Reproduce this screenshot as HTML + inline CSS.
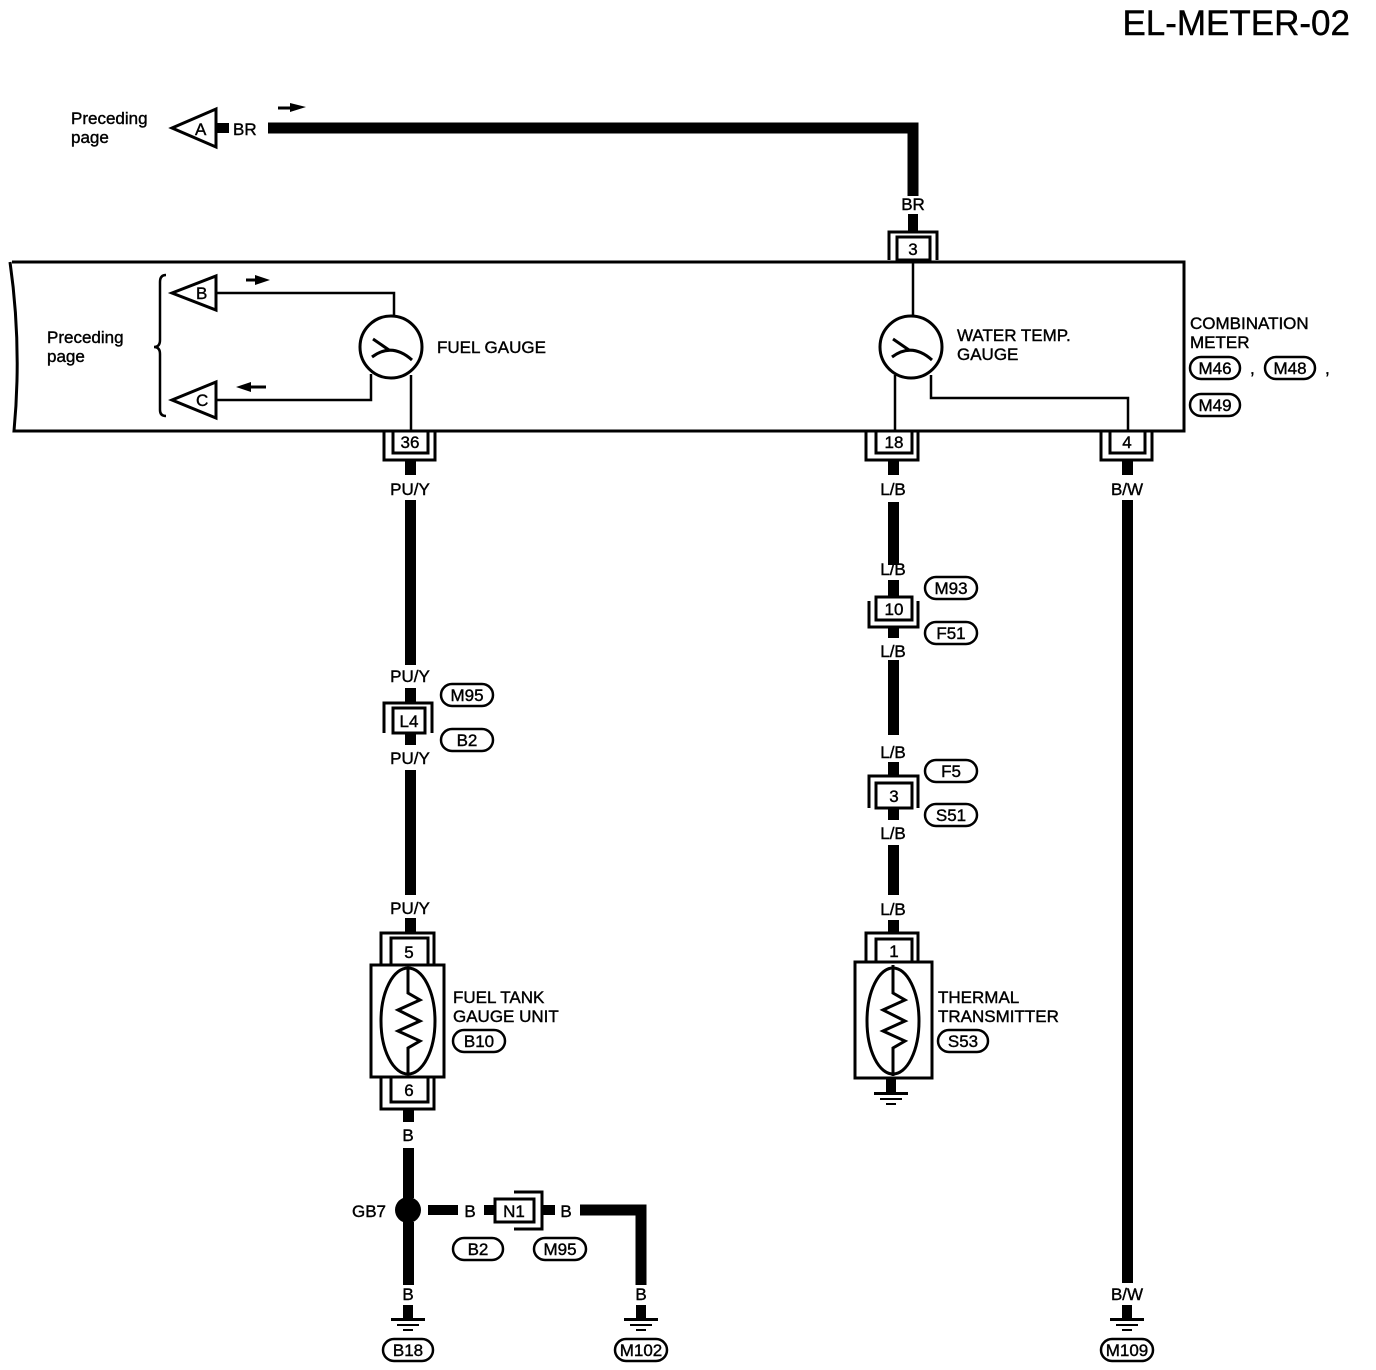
<!DOCTYPE html>
<html><head><meta charset="utf-8"><style>
html,body{margin:0;padding:0;background:#fff;}
svg{display:block;}
text{font-family:"Liberation Sans",sans-serif;fill:#000;stroke:#000;stroke-width:0.4;}
</style></head><body>
<svg width="1376" height="1370" viewBox="0 0 1376 1370" xmlns="http://www.w3.org/2000/svg">
<defs>
<g id="gnd">
<rect x="-5" y="0" width="10" height="14" fill="#000"/>
<rect x="-17" y="13" width="34" height="3" fill="#000"/>
<rect x="-11" y="19" width="22" height="2" fill="#000"/>
<rect x="-5" y="24" width="10" height="2" fill="#000"/>
</g>
</defs>
<g font-size="17">
<text x="1350" y="35" font-size="35" text-anchor="end">EL-METER-02</text>

<text x="71" y="124">Preceding</text>
<text x="71" y="143">page</text>
<polygon points="172,128 216,109 216,147" fill="none" stroke="#000" stroke-width="3"/>
<text x="195" y="135">A</text>
<rect x="216" y="123" width="13" height="10"/>
<text x="233" y="135">BR</text>
<path d="M268 128 H913 V196" fill="none" stroke="#000" stroke-width="11"/>
<path d="M278 108 H292" stroke="#000" stroke-width="3"/><polygon points="290,103 306,107 290,112"/>
<text x="913" y="210" text-anchor="middle">BR</text>
<rect x="908" y="214" width="10" height="18"/>
<path d="M889 260 V232 H937 V260" fill="none" stroke="#000" stroke-width="3"/>
<rect x="897" y="237" width="33" height="23" fill="#fff" stroke="#000" stroke-width="3"/>
<text x="913" y="255" text-anchor="middle">3</text>

<path d="M12 262 H1184 V431 H14 Q22 346 10 262" fill="none" stroke="#000" stroke-width="3"/>
<text x="47" y="343">Preceding</text>
<text x="47" y="362">page</text>
<path d="M166 275 Q160 275 160 282 V340 Q160 347 154 347 Q160 347 160 354 V410 Q160 416 166 416" fill="none" stroke="#000" stroke-width="2.5"/>
<polygon points="172,293 216,276 216,310" fill="none" stroke="#000" stroke-width="3"/>
<text x="196" y="299">B</text>
<polygon points="172,400 216,382 216,418" fill="none" stroke="#000" stroke-width="3"/>
<text x="196" y="406">C</text>
<path d="M246 280 H256" stroke="#000" stroke-width="3"/><polygon points="255,275 270,280 255,285"/>
<path d="M250 387 H266" stroke="#000" stroke-width="3"/><polygon points="251,382 236,387 251,392"/>
<path d="M216 293 H394 V316" fill="none" stroke="#000" stroke-width="2.5"/>
<path d="M216 400 H371 V374" fill="none" stroke="#000" stroke-width="2.5"/>
<path d="M411 375 V431" fill="none" stroke="#000" stroke-width="2.5"/>
<circle cx="391" cy="347" r="31" fill="#fff" stroke="#000" stroke-width="3"/>
<path d="M373 339 L389 350 M372 357 Q392 342 412 360" fill="none" stroke="#000" stroke-width="3"/>
<text x="437" y="353">FUEL GAUGE</text>

<path d="M913 260 V316" stroke="#000" stroke-width="2.5"/>
<path d="M895 375 V431" stroke="#000" stroke-width="2.5"/>
<path d="M931 375 V398 H1128 V431" fill="none" stroke="#000" stroke-width="2.5"/>
<circle cx="911" cy="347" r="31" fill="#fff" stroke="#000" stroke-width="3"/>
<path d="M893 339 L909 350 M892 357 Q912 342 932 360" fill="none" stroke="#000" stroke-width="3"/>
<text x="957" y="341">WATER TEMP.</text>
<text x="957" y="360">GAUGE</text>
<text x="1190" y="329">COMBINATION</text>
<text x="1190" y="348">METER</text>
<rect x="1190" y="357" width="50" height="22" rx="11" fill="none" stroke="#000" stroke-width="2.5"/><text x="1215" y="374" text-anchor="middle">M46</text>
<text x="1250" y="374">,</text>
<rect x="1265" y="357" width="50" height="22" rx="11" fill="none" stroke="#000" stroke-width="2.5"/><text x="1290" y="374" text-anchor="middle">M48</text>
<text x="1325" y="374">,</text>
<rect x="1190" y="394" width="50" height="22" rx="11" fill="none" stroke="#000" stroke-width="2.5"/><text x="1215" y="411" text-anchor="middle">M49</text>

<path d="M384 432 V460 H435 V432" fill="none" stroke="#000" stroke-width="3"/>
<rect x="393" y="431" width="35" height="22" fill="#fff" stroke="#000" stroke-width="3"/>
<text x="410" y="448" text-anchor="middle">36</text>
<path d="M866 432 V460 H918 V432" fill="none" stroke="#000" stroke-width="3"/>
<rect x="876" y="431" width="36" height="22" fill="#fff" stroke="#000" stroke-width="3"/>
<text x="894" y="448" text-anchor="middle">18</text>
<path d="M1101 432 V460 H1152 V432" fill="none" stroke="#000" stroke-width="3"/>
<rect x="1110" y="431" width="35" height="22" fill="#fff" stroke="#000" stroke-width="3"/>
<text x="1127" y="448" text-anchor="middle">4</text>

<rect x="405" y="460" width="11" height="15"/>
<text x="410" y="495" text-anchor="middle">PU/Y</text>
<rect x="405" y="500" width="11" height="165"/>
<text x="410" y="682" text-anchor="middle">PU/Y</text>
<rect x="405" y="688" width="11" height="15"/>
<path d="M384 733 V703 H432 V733" fill="none" stroke="#000" stroke-width="3"/>
<rect x="393" y="708" width="32" height="25" fill="#fff" stroke="#000" stroke-width="3"/>
<text x="409" y="727" text-anchor="middle">L4</text>
<rect x="405" y="734" width="11" height="11"/>
<text x="410" y="764" text-anchor="middle">PU/Y</text>
<rect x="441" y="684" width="52" height="22" rx="11" fill="none" stroke="#000" stroke-width="2.5"/><text x="467" y="701" text-anchor="middle">M95</text>
<rect x="441" y="729" width="52" height="22" rx="11" fill="none" stroke="#000" stroke-width="2.5"/><text x="467" y="746" text-anchor="middle">B2</text>
<rect x="405" y="770" width="11" height="125"/>
<text x="410" y="914" text-anchor="middle">PU/Y</text>
<rect x="405" y="918" width="11" height="14"/>
<path d="M381 965 V933 H434 V965" fill="none" stroke="#000" stroke-width="3"/>
<rect x="391" y="938" width="37" height="27" fill="#fff" stroke="#000" stroke-width="3"/>
<text x="409" y="958" text-anchor="middle">5</text>
<rect x="371" y="965" width="73" height="112" fill="#fff" stroke="#000" stroke-width="3"/>
<ellipse cx="408" cy="1021" rx="27" ry="53" fill="none" stroke="#000" stroke-width="3"/>
<path d="M408 968 V993 L420 1000 L398 1010 L420 1021 L398 1031 L420 1041 L408 1048 V1074" fill="none" stroke="#000" stroke-width="3"/>
<text x="453" y="1003">FUEL TANK</text>
<text x="453" y="1022">GAUGE UNIT</text>
<rect x="453" y="1030" width="52" height="22" rx="11" fill="none" stroke="#000" stroke-width="2.5"/><text x="479" y="1047" text-anchor="middle">B10</text>
<path d="M381 1077 V1109 H434 V1077" fill="none" stroke="#000" stroke-width="3"/>
<rect x="391" y="1077" width="37" height="25" fill="#fff" stroke="#000" stroke-width="3"/>
<text x="409" y="1096" text-anchor="middle">6</text>
<rect x="403" y="1110" width="11" height="12"/>
<text x="408" y="1141" text-anchor="middle">B</text>
<rect x="403" y="1148" width="11" height="50"/>
<circle cx="408" cy="1210" r="13"/>
<rect x="403" y="1222" width="11" height="63"/>
<text x="408" y="1300" text-anchor="middle">B</text>
<use href="#gnd" x="408" y="1305"/>
<rect x="383" y="1339" width="50" height="22" rx="11" fill="none" stroke="#000" stroke-width="2.5"/><text x="408" y="1356" text-anchor="middle">B18</text>
<text x="352" y="1217">GB7</text>

<rect x="428" y="1205" width="30" height="10"/>
<text x="470" y="1217" text-anchor="middle">B</text>
<rect x="484" y="1205" width="11" height="10"/>
<path d="M514 1192 H542 V1229 H514" fill="none" stroke="#000" stroke-width="3"/>
<rect x="495" y="1199" width="39" height="23" fill="#fff" stroke="#000" stroke-width="3"/>
<text x="514" y="1217" text-anchor="middle">N1</text>
<rect x="542" y="1205" width="13" height="10"/>
<text x="566" y="1217" text-anchor="middle">B</text>
<path d="M580 1210 H641 V1285" fill="none" stroke="#000" stroke-width="11"/>
<text x="641" y="1300" text-anchor="middle">B</text>
<use href="#gnd" x="641" y="1305"/>
<rect x="615" y="1339" width="52" height="22" rx="11" fill="none" stroke="#000" stroke-width="2.5"/><text x="641" y="1356" text-anchor="middle">M102</text>
<rect x="453" y="1238" width="50" height="22" rx="11" fill="none" stroke="#000" stroke-width="2.5"/><text x="478" y="1255" text-anchor="middle">B2</text>
<rect x="534" y="1238" width="52" height="22" rx="11" fill="none" stroke="#000" stroke-width="2.5"/><text x="560" y="1255" text-anchor="middle">M95</text>

<rect x="888" y="460" width="11" height="15"/>
<text x="893" y="495" text-anchor="middle">L/B</text>
<rect x="888" y="502" width="11" height="63"/>
<text x="893" y="575" text-anchor="middle">L/B</text>
<rect x="888" y="580" width="11" height="18"/>
<path d="M869 601 V627 H918 V601" fill="none" stroke="#000" stroke-width="3"/>
<rect x="876" y="597" width="36" height="23" fill="#fff" stroke="#000" stroke-width="3"/>
<text x="894" y="615" text-anchor="middle">10</text>
<rect x="888" y="628" width="11" height="10"/>
<text x="893" y="657" text-anchor="middle">L/B</text>
<rect x="888" y="660" width="11" height="75"/>
<text x="893" y="758" text-anchor="middle">L/B</text>
<rect x="888" y="762" width="11" height="14"/>
<path d="M869 808 V776 H918 V808" fill="none" stroke="#000" stroke-width="3"/>
<rect x="876" y="783" width="36" height="25" fill="#fff" stroke="#000" stroke-width="3"/>
<text x="894" y="802" text-anchor="middle">3</text>
<rect x="888" y="808" width="11" height="12"/>
<text x="893" y="839" text-anchor="middle">L/B</text>
<rect x="888" y="845" width="11" height="50"/>
<text x="893" y="915" text-anchor="middle">L/B</text>
<rect x="888" y="920" width="11" height="13"/>
<path d="M866 962 V933 H918 V962" fill="none" stroke="#000" stroke-width="3"/>
<rect x="876" y="939" width="36" height="23" fill="#fff" stroke="#000" stroke-width="3"/>
<text x="894" y="957" text-anchor="middle">1</text>
<rect x="855" y="962" width="77" height="116" fill="#fff" stroke="#000" stroke-width="3"/>
<ellipse cx="893" cy="1021" rx="26" ry="53" fill="none" stroke="#000" stroke-width="3"/>
<path d="M893 965 V993 L905 1000 L883 1010 L905 1021 L883 1031 L905 1041 L893 1048 V1076" fill="none" stroke="#000" stroke-width="3"/>
<use href="#gnd" x="891" y="1079"/>
<text x="938" y="1003">THERMAL</text>
<text x="938" y="1022">TRANSMITTER</text>
<rect x="938" y="1030" width="50" height="22" rx="11" fill="none" stroke="#000" stroke-width="2.5"/><text x="963" y="1047" text-anchor="middle">S53</text>
<rect x="925" y="577" width="52" height="22" rx="11" fill="none" stroke="#000" stroke-width="2.5"/><text x="951" y="594" text-anchor="middle">M93</text>
<rect x="925" y="622" width="52" height="22" rx="11" fill="none" stroke="#000" stroke-width="2.5"/><text x="951" y="639" text-anchor="middle">F51</text>
<rect x="925" y="760" width="52" height="22" rx="11" fill="none" stroke="#000" stroke-width="2.5"/><text x="951" y="777" text-anchor="middle">F5</text>
<rect x="925" y="804" width="52" height="22" rx="11" fill="none" stroke="#000" stroke-width="2.5"/><text x="951" y="821" text-anchor="middle">S51</text>

<rect x="1122" y="460" width="11" height="15"/>
<text x="1127" y="495" text-anchor="middle">B/W</text>
<rect x="1122" y="500" width="11" height="783"/>
<text x="1127" y="1300" text-anchor="middle">B/W</text>
<use href="#gnd" x="1127" y="1305"/>
<rect x="1101" y="1339" width="52" height="22" rx="11" fill="none" stroke="#000" stroke-width="2.5"/><text x="1127" y="1356" text-anchor="middle">M109</text>
</g>
</svg>
</body></html>
